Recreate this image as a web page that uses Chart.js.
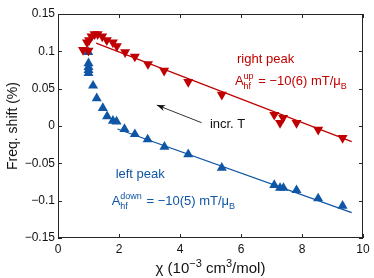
<!DOCTYPE html>
<html lang="en">
<head>
    <meta charset="UTF-8">
    <title>Freq. shift vs chi</title>
    <style>
        body {
            margin: 0;
            background: #fff;
        }
        #wrap {
            width: 374px;
            height: 278px;
        }
    </style>
    <script src="https://cdn.jsdelivr.net/npm/chart.js"></script>
</head>
<body>
    <div id="wrap"><canvas id="shiftChart"></canvas></div>

    <script>
        // right peak (down triangles)
        const rightX = [0.82, 1.0, 0.95, 1.02, 1.1, 1.2, 1.3, 1.45, 1.6, 1.8, 1.93, 2.2, 2.52, 2.95, 3.48, 4.27, 5.37, 7.09, 7.28, 7.38, 7.82, 8.53, 9.33];
        const rightY = [0.102, 0.101, 0.112, 0.115, 0.12, 0.123, 0.123, 0.12, 0.115, 0.112, 0.107, 0.099, 0.093, 0.083, 0.074, 0.059, 0.042, 0.015, 0.004, 0.011, 0.004, -0.005, -0.016];

        // left peak (up triangles)
        const leftX = [0.99, 1.0, 1.0, 1.0, 1.0, 1.15, 1.27, 1.47, 1.61, 1.8, 1.92, 2.18, 2.52, 2.94, 3.49, 4.27, 5.37, 7.09, 7.28, 7.39, 7.82, 8.53, 9.33];
        const leftY = [0.099, 0.084, 0.079, 0.075, 0.071, 0.054, 0.037, 0.024, 0.013, 0.007, 0.006, -0.004, -0.011, -0.018, -0.028, -0.038, -0.056, -0.079, -0.083, -0.083, -0.086, -0.097, -0.107];

        // linear fits (end points)
        const rightFitX = [1.25, 9.63];
        const rightFitY = [0.111, -0.021];
        const leftFitX = [1.95, 9.63];
        const leftFitY = [-0.004, -0.116];

        const xTicks = [0, 2, 4, 6, 8, 10];
        const yTicks = [-0.15, -0.1, -0.05, 0, 0.05, 0.1, 0.15];

        const RED = "#c00000";
        const BLUE = "#0f56a6";
        const FONT = "'Liberation Sans', Arial, sans-serif";

        function pts(xs, ys) {
            return xs.map((x, i) => ({ x: x, y: ys[i] }));
        }

        function fmt(v) {
            const s = String(parseFloat(v.toFixed(2)));
            return s.replace("-", "\u2212");
        }

        // draws text pieces: {t, mode: 'n' | 'sup' | 'sub' | 'stack', up, down}
        function drawRich(ctx, x, y, parts, size, color) {
            ctx.fillStyle = color;
            ctx.textBaseline = "alphabetic";
            ctx.textAlign = "left";
            const small = Math.round(size * 0.72);
            parts.forEach(p => {
                if (p.mode === "stack") {
                    ctx.font = small + "px " + FONT;
                    ctx.fillText(p.up, x, y - size * 0.45);
                    ctx.fillText(p.down, x, y + size * 0.3);
                    x += Math.max(ctx.measureText(p.up).width, ctx.measureText(p.down).width) + 1;
                } else if (p.mode === "sup") {
                    ctx.font = small + "px " + FONT;
                    ctx.fillText(p.t, x, y - size * 0.42);
                    x += ctx.measureText(p.t).width;
                } else if (p.mode === "sub") {
                    ctx.font = small + "px " + FONT;
                    ctx.fillText(p.t, x, y + size * 0.3);
                    x += ctx.measureText(p.t).width;
                } else {
                    ctx.font = size + "px " + FONT;
                    ctx.fillText(p.t, x, y);
                    x += ctx.measureText(p.t).width;
                }
            });
        }

        const decor = {
            id: "decor",
            afterDraw(chart) {
                const ctx = chart.ctx;
                const a = chart.chartArea;
                const sx = chart.scales.x;
                const sy = chart.scales.y;
                ctx.save();

                // box + inward ticks
                ctx.strokeStyle = "#262626";
                ctx.lineWidth = 1;
                ctx.strokeRect(a.left + 0.5, a.top + 0.5, a.right - a.left - 1, a.bottom - a.top - 1);
                ctx.beginPath();
                xTicks.forEach(v => {
                    const px = Math.round(sx.getPixelForValue(v)) + 0.5;
                    ctx.moveTo(px, a.bottom);
                    ctx.lineTo(px, a.bottom - 4);
                    ctx.moveTo(px, a.top);
                    ctx.lineTo(px, a.top + 4);
                });
                yTicks.forEach(v => {
                    const py = Math.round(sy.getPixelForValue(v)) + 0.5;
                    ctx.moveTo(a.left, py);
                    ctx.lineTo(a.left + 4, py);
                    ctx.moveTo(a.right, py);
                    ctx.lineTo(a.right - 4, py);
                });
                ctx.stroke();

                // arrow "incr. T"
                const x0 = sx.getPixelForValue(4.71), y0 = sy.getPixelForValue(0.0044);
                const x1 = sx.getPixelForValue(3.24), y1 = sy.getPixelForValue(0.028);
                ctx.strokeStyle = "#333";
                ctx.fillStyle = "#111";
                ctx.beginPath();
                ctx.moveTo(x0, y0);
                ctx.lineTo(x1, y1);
                ctx.stroke();
                const ang = Math.atan2(y1 - y0, x1 - x0);
                ctx.beginPath();
                ctx.moveTo(x1, y1);
                ctx.lineTo(x1 - 9 * Math.cos(ang - 0.35), y1 - 9 * Math.sin(ang - 0.35));
                ctx.lineTo(x1 - 6 * Math.cos(ang), y1 - 6 * Math.sin(ang));
                ctx.lineTo(x1 - 9 * Math.cos(ang + 0.35), y1 - 9 * Math.sin(ang + 0.35));
                ctx.closePath();
                ctx.fill();

                // annotations
                drawRich(ctx, sx.getPixelForValue(4.98), sy.getPixelForValue(-0.0023),
                    [{ t: "incr. T" }], 13, "#111");
                drawRich(ctx, sx.getPixelForValue(5.87), sy.getPixelForValue(0.084),
                    [{ t: "right peak" }], 13, RED);
                drawRich(ctx, sx.getPixelForValue(5.80), sy.getPixelForValue(0.055),
                    [{ t: "A" }, { mode: "stack", up: "up", down: "hf" }, { t: " = \u221210(6) mT/\u03bc" }, { mode: "sub", t: "B" }], 13, RED);
                drawRich(ctx, sx.getPixelForValue(1.89), sy.getPixelForValue(-0.0696),
                    [{ t: "left peak" }], 13, BLUE);
                drawRich(ctx, sx.getPixelForValue(1.76), sy.getPixelForValue(-0.106),
                    [{ t: "A" }, { mode: "stack", up: "down", down: "hf" }, { t: " = \u221210(5) mT/\u03bc" }, { mode: "sub", t: "B" }], 13, BLUE);

                // axis titles
                const xs = 15;
                const xl = [{ t: "\u03c7 (10" }, { mode: "sup", t: "\u22123" }, { t: " cm" }, { mode: "sup", t: "3" }, { t: "/mol)" }];
                let w = 0;
                xl.forEach(p => {
                    ctx.font = (p.mode ? Math.round(xs * 0.72) : xs) + "px " + FONT;
                    w += ctx.measureText(p.t).width;
                });
                drawRich(ctx, (a.left + a.right) / 2 - w / 2, 273, xl, xs, "#111");

                ctx.translate(17, (a.top + a.bottom) / 2);
                ctx.rotate(-Math.PI / 2);
                ctx.font = "14px " + FONT;
                ctx.textAlign = "center";
                ctx.fillStyle = "#111";
                ctx.fillText("Freq. shift (%)", 0, 0);
                ctx.restore();
            }
        };

        new Chart(document.getElementById("shiftChart"), {
            type: "scatter",
            data: {
                datasets: [
                    {
                        data: pts(rightFitX, rightFitY),
                        showLine: true,
                        borderColor: RED,
                        borderWidth: 1.2,
                        pointRadius: 0
                    },
                    {
                        data: pts(leftFitX, leftFitY),
                        showLine: true,
                        borderColor: BLUE,
                        borderWidth: 1.2,
                        pointRadius: 0
                    },
                    {
                        data: pts(rightX, rightY),
                        pointStyle: "triangle",
                        rotation: 180,
                        pointRadius: 5.8,
                        backgroundColor: RED,
                        borderColor: RED,
                        borderWidth: 0
                    },
                    {
                        data: pts(leftX, leftY),
                        pointStyle: "triangle",
                        pointRadius: 5.8,
                        backgroundColor: BLUE,
                        borderColor: BLUE,
                        borderWidth: 0
                    }
                ]
            },
            options: {
                responsive: true,
                maintainAspectRatio: false,
                animation: false,
                layout: { padding: { top: 14, right: 11, left: 0, bottom: 0 } },
                plugins: {
                    legend: { display: false },
                    tooltip: { enabled: false }
                },
                scales: {
                    x: {
                        type: "linear",
                        min: 0,
                        max: 10,
                        afterFit: s => { s.height = 40; },
                        afterBuildTicks: s => { s.ticks = xTicks.map(v => ({ value: v })); },
                        grid: { display: false, drawTicks: false },
                        border: { display: false },
                        ticks: {
                            padding: 4,
                            color: "#111",
                            font: { family: FONT, size: 12 },
                            maxRotation: 0,
                            callback: v => fmt(v)
                        }
                    },
                    y: {
                        type: "linear",
                        min: -0.15,
                        max: 0.15,
                        afterFit: s => { s.width = 58; },
                        afterBuildTicks: s => { s.ticks = yTicks.map(v => ({ value: v })); },
                        grid: { display: false, drawTicks: false },
                        border: { display: false },
                        ticks: {
                            padding: 3,
                            color: "#111",
                            font: { family: FONT, size: 12 },
                            callback: v => fmt(v)
                        }
                    }
                }
            },
            plugins: [decor]
        });
    </script>
</body>
</html>
